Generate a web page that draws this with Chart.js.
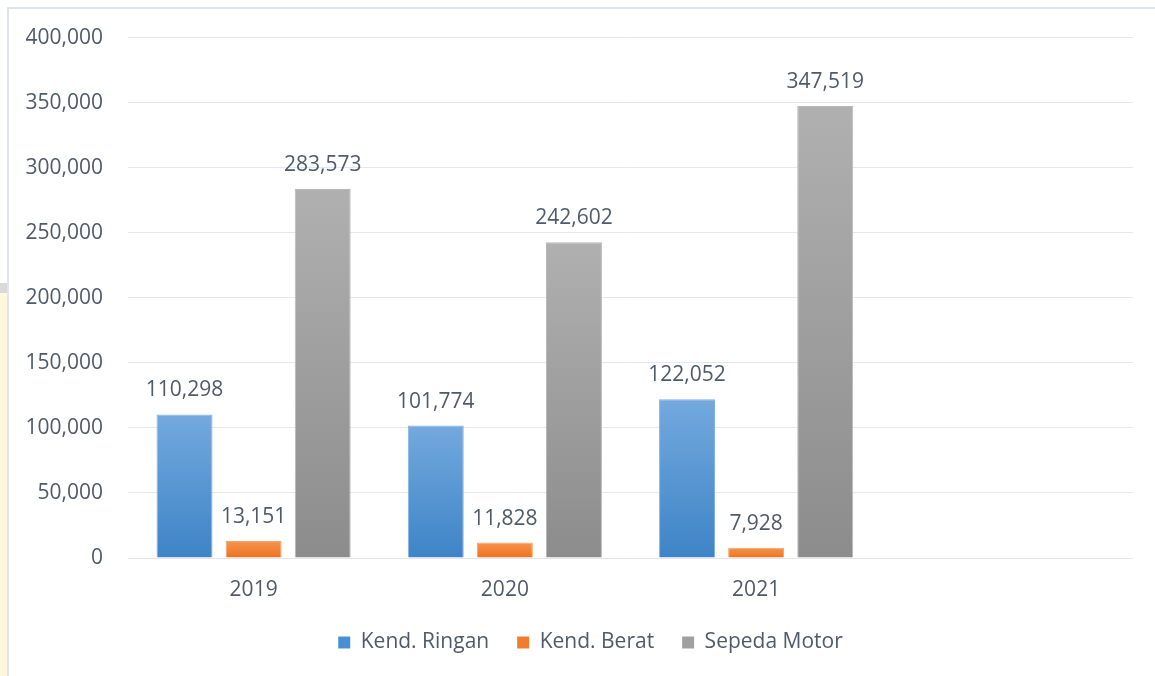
<!DOCTYPE html>
<html>
<head>
<meta charset="utf-8">
<script src="https://cdn.jsdelivr.net/npm/chart.js@4.4.1/dist/chart.umd.min.js"></script>
<style>
  html, body { margin: 0; padding: 0; background: #fff; }
  body { width: 1155px; height: 676px; position: relative; overflow: hidden; }
  #strip { position: absolute; left: 0; top: 293px; width: 7px; height: 383px; background: #fff8dc; }
  #stripTop { position: absolute; left: 0; top: 283px; width: 7px; height: 10px; background: #d9d9d9; }
  #frame { position: absolute; left: 7px; top: 7px; width: 1160px; height: 680px;
           border-left: 2px solid #dfe4ec; border-top: 2px solid #dfe4ec; }
  #wrap { position: absolute; left: 0; top: 0; width: 1155px; height: 676px; }
</style>
</head>
<body>
<div id="stripTop"></div>
<div id="strip"></div>
<div id="frame"></div>
<div id="wrap"><canvas id="myChart" width="1155" height="676"></canvas></div>
<script>
//chart data
const years = ['2019', '2020', '2021', ''];
const ringan = [110298, 101774, 122052, null];
const berat = [13151, 11828, 7928, null];
const motor = [283573, 242602, 347519, null];
const yTicks = [0, 50000, 100000, 150000, 200000, 250000, 300000, 350000, 400000];

const textColor = '#4f5b6b';
const fontFamily = '"Open Sans", "Noto Sans", sans-serif';

//vertical gradient per bar, like the excel fill
function grad(top, bottom) {
  return function(ctx) {
    const chart = ctx.chart;
    const area = chart.chartArea;
    if (!area || ctx.raw == null) return bottom;
    const yTop = chart.scales.y.getPixelForValue(ctx.raw);
    const g = chart.ctx.createLinearGradient(0, yTop, 0, area.bottom);
    g.addColorStop(0, top);
    g.addColorStop(1, bottom);
    return g;
  };
}

//value labels above the bars
const barLabels = {
  id: 'barLabels',
  afterDatasetsDraw(chart) {
    const ctx = chart.ctx;
    ctx.save();
    ctx.font = '21px ' + fontFamily;
    ctx.fillStyle = textColor;
    ctx.textAlign = 'center';
    ctx.textBaseline = 'middle';
    chart.data.datasets.forEach((ds, i) => {
      chart.getDatasetMeta(i).data.forEach((bar, j) => {
        const v = ds.data[j];
        if (v == null) return;
        ctx.fillText(v.toLocaleString('en-US'), bar.x, bar.y - 24);
      });
    });
    ctx.restore();
  }
};

//legend in the original sits a bit right of the canvas centre
const legendShift = {
  id: 'legendShift',
  afterLayout(chart) {
    chart.legend.left += 24;
    chart.legend.right += 24;
  }
};

const chart_data = {
  labels: years,
  datasets: [{
    label: 'Kend. Ringan',
    data: ringan,
    backgroundColor: grad('#73a9de', '#3e84c6'),
    borderColor: '#80b2e3',
    borderWidth: 1
  }, {
    label: 'Kend. Berat',
    data: berat,
    backgroundColor: grad('#f6954f', '#ec721f'),
    borderColor: '#f6a26a',
    borderWidth: 1
  }, {
    label: 'Sepeda Motor',
    data: motor,
    backgroundColor: grad('#b0b0b0', '#8c8c8c'),
    borderColor: '#b8b8b8',
    borderWidth: 1
  }]
};

const ctx = document.getElementById('myChart').getContext('2d');
const myChart = new Chart(ctx, {
  type: 'bar',
  data: chart_data,
  plugins: [barLabels, legendShift],
  options: {
    responsive: false,
    animation: false,
    categoryPercentage: 0.825,
    barPercentage: 0.81,
    layout: { padding: { left: 0, right: 22, top: 37, bottom: 13 } },
    plugins: {
      legend: {
        position: 'bottom',
        labels: {
          boxWidth: 12,
          boxHeight: 12,
          padding: 28,
          color: textColor,
          font: { family: fontFamily, size: 21 },
          generateLabels(chart) {
            const cols = ['#4a8fd3', '#f07c2e', '#a0a0a0'];
            return chart.data.datasets.map((ds, i) => ({
              text: ds.label,
              fillStyle: cols[i],
              strokeStyle: cols[i],
              lineWidth: 0,
              fontColor: textColor,
              datasetIndex: i
            }));
          }
        }
      },
      tooltip: { enabled: false }
    },
    scales: {
      x: {
        grid: { display: false, drawTicks: false },
        border: { display: false },
        ticks: { color: textColor, font: { family: fontFamily, size: 21 }, padding: 19 },
        afterFit(scale) { scale.height = 46; }
      },
      y: {
        min: 0,
        max: 400000,
        afterBuildTicks(scale) { scale.ticks = yTicks.map(v => ({ value: v })); },
        grid: { color: '#e4e7ee', lineWidth: 1, drawTicks: false },
        border: { display: false },
        ticks: {
          color: textColor,
          font: { family: fontFamily, size: 21 },
          padding: 25,
          callback: v => v.toLocaleString('en-US')
        },
        afterFit(scale) { scale.width = 128; }
      }
    }
  }
});
</script>
</body>
</html>
